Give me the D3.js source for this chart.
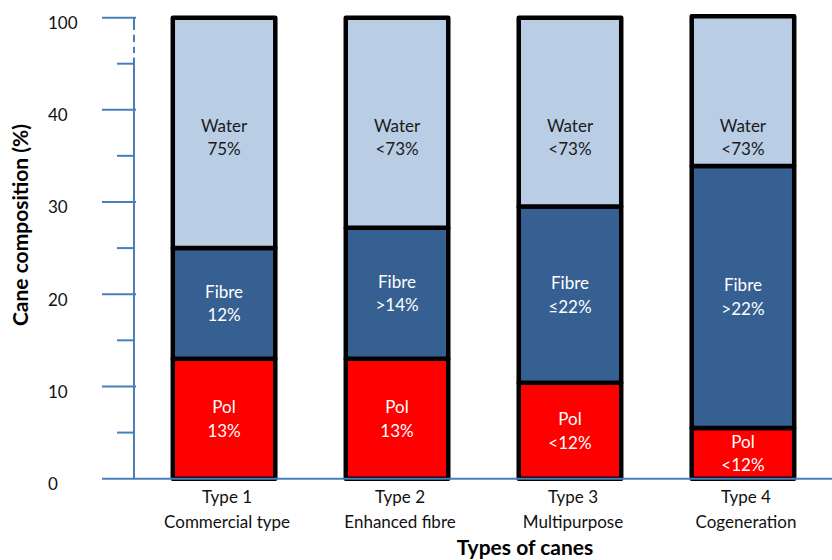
<!DOCTYPE html>
<html>
<head>
<meta charset="utf-8">
<script src="https://cdn.jsdelivr.net/npm/d3@7"></script>
<style>
  html, body { margin: 0; padding: 0; background: #fff; }
  svg { display: block; font-family: Lato, "Open Sans", sans-serif; }
</style>
</head>
<body>
<svg id="chart" width="832" height="560"></svg>
<script>
// Cane types and their two-line category labels
const categories = ["Type 1", "Type 2", "Type 3", "Type 4"];
const subtitles = ["Commercial type", "Enhanced fibre", "Multipurpose", "Cogeneration"];

// Composition of each cane type (%)
const polValues = [13, 13, 10.4, 5.5];
const fibreValues = [12, 14.2, 19.1, 28.4];
const waterValues = [75, 72.8, 70.5, 67.1];

// Text printed inside each segment
const polLabels = ["13%", "13%", "<12%", "<12%"];
const fibreLabels = ["12%", ">14%", "≤22%", ">22%"];
const waterLabels = ["75%", "<73%", "<73%", "<73%"];

// Axis ticks (the axis is broken between 40 and 100)
const majorTicks = [0, 10, 20, 30, 40, 100];
const minorTicks = [5, 15, 25, 35, 70];

const keys = ["Pol", "Fibre", "Water"];
const colors = { Pol: "#ff0000", Fibre: "#366092", Water: "#b9cde5" };
const labelColors = { Pol: "#ffffff", Fibre: "#ffffff", Water: "#1a1a1a" };
const segLabels = { Pol: polLabels, Fibre: fibreLabels, Water: waterLabels };

const rows = categories.map((c, i) => ({
  category: c, Pol: polValues[i], Fibre: fibreValues[i], Water: waterValues[i], index: i
}));
const series = d3.stack().keys(keys)(rows);

const svg = d3.select("#chart");
const axisColor = "#4a7ebb";

// Broken value axis: 0–40 linear, 40–100 compressed
const y = d3.scaleLinear().domain([0, 40, 100]).range([478.7, 109.7, 17.7]);
const x = d3.scaleBand().domain(categories).range([138, 829]).paddingInner(0.405).paddingOuter(0.2);
const barW = 102.5;
const cx = c => x(c) + x.bandwidth() / 2;

// Stacked bars
const layer = svg.append("g");
series.forEach(s => {
  layer.selectAll(null).data(s).join("rect")
    .attr("x", d => cx(d.data.category) - barW / 2)
    .attr("width", barW)
    .attr("y", d => y(d[1]))
    .attr("height", d => y(d[0]) - y(d[1]))
    .attr("fill", colors[s.key])
    .attr("stroke", "#000")
    .attr("stroke-width", 4.5)
    .attr("stroke-linejoin", "round");
});

// Segment labels: Pol and Fibre centred in their segment, Water at a common height
const waterLabelY = y(37);
series.forEach(s => {
  const g = layer.selectAll(null).data(s).join("text")
    .attr("text-anchor", "middle")
    .attr("font-size", 17)
    .attr("fill", labelColors[s.key])
    .attr("transform", d => {
      const my = s.key === "Water" ? waterLabelY : (y(d[0]) + y(d[1])) / 2;
      return `translate(${cx(d.data.category)},${my})`;
    });
  g.append("tspan").attr("x", 0).attr("y", -5.5).text(s.key);
  g.append("tspan").attr("x", 0).attr("y", 18).text(d => segLabels[s.key][d.data.index]);
});

// Value axis line with break marks between 74 and 92
const axisG = svg.append("g").attr("stroke", axisColor).attr("stroke-width", 2).attr("fill", "none");
const axisX = 134;
[[0, 74], [77, 81], [84.2, 88.8], [92, 100]].forEach(([a, b]) => {
  axisG.append("line").attr("x1", axisX).attr("x2", axisX).attr("y1", y(a)).attr("y2", y(b));
});
axisG.selectAll(null).data(majorTicks.filter(t => t !== 0)).join("line")
  .attr("x1", 102).attr("x2", 136).attr("y1", d => y(d)).attr("y2", d => y(d));
axisG.selectAll(null).data(minorTicks).join("line")
  .attr("x1", 117).attr("x2", 134).attr("y1", d => y(d)).attr("y2", d => y(d));

// Category axis line
axisG.append("line").attr("x1", 102).attr("x2", 832).attr("y1", y(0)).attr("y2", y(0));

// Tick labels
svg.append("g").selectAll("text").data(majorTicks).join("text")
  .attr("x", 48).attr("y", d => y(d) + 11.5)
  .attr("font-size", 17).attr("fill", "#111")
  .text(d => d);

// Category labels
const catG = svg.append("g").selectAll("text").data(categories).join("text")
  .attr("text-anchor", "middle").attr("font-size", 17).attr("fill", "#111")
  .attr("transform", d => `translate(${cx(d) + 3},0)`);
catG.append("tspan").attr("x", 0).attr("y", 503).text(d => d);
catG.append("tspan").attr("x", 0).attr("y", 528).text((d, i) => subtitles[i]);

// Axis titles
svg.append("text")
  .attr("x", 525).attr("y", 555).attr("text-anchor", "middle")
  .attr("font-size", 21).attr("font-weight", "bold").attr("fill", "#000")
  .text("Types of canes");
svg.append("text")
  .attr("transform", "translate(28,225) rotate(-90)").attr("text-anchor", "middle")
  .attr("font-size", 21).attr("font-weight", "bold").attr("fill", "#000")
  .text("Cane composition (%)");
</script>
</body>
</html>
